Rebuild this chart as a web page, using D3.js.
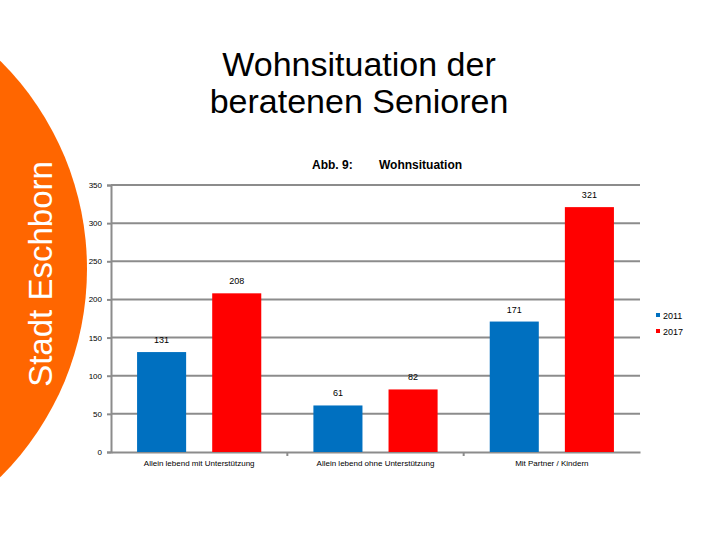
<!DOCTYPE html>
<html>
<head>
<meta charset="utf-8">
<script src="https://cdn.jsdelivr.net/npm/d3@7"></script>
<style>
  body { margin: 0; background: #fff; }
  svg { display: block; }
</style>
</head>
<body>
<div id="chart"></div>
<script>
// chart data
var categories = ["Allein lebend mit Unterstützung", "Allein lebend ohne Unterstützung", "Mit Partner / Kindern"];
var series = ["2011", "2017"];
var values2011 = [131, 61, 171];
var values2017 = [208, 82, 321];
var yTicks = [0, 50, 100, 150, 200, 250, 300, 350];
var colors = ["#0070c0", "#ff0000"];

var width = 720, height = 540;
var margin = {top: 185, right: 80, bottom: 88, left: 111};
var font = "Liberation Sans, Arial, sans-serif";

var svg = d3.select("#chart").append("svg")
    .attr("width", width)
    .attr("height", height);

// orange side band
svg.append("circle")
    .attr("cx", -206)
    .attr("cy", 269)
    .attr("r", 293)
    .attr("fill", "#ff6600");

svg.append("text")
    .attr("transform", "translate(52,274) rotate(-90)")
    .attr("text-anchor", "middle")
    .style("font-family", font)
    .style("font-size", "33px")
    .attr("fill", "#fff")
    .text("Stadt Eschborn");

// slide title
var title = svg.append("text")
    .attr("text-anchor", "middle")
    .style("font-family", font)
    .style("font-size", "34px")
    .attr("fill", "#000");
title.append("tspan").attr("x", 359).attr("y", 76).text("Wohnsituation der");
title.append("tspan").attr("x", 359).attr("y", 113).text("beratenen Senioren");

// chart header
svg.append("text")
    .attr("x", 312).attr("y", 169)
    .style("font-family", font)
    .style("font-size", "12px")
    .style("font-weight", "bold")
    .text("Abb. 9:");
svg.append("text")
    .attr("x", 379).attr("y", 169)
    .style("font-family", font)
    .style("font-size", "12px")
    .style("font-weight", "bold")
    .text("Wohnsituation");

var innerW = width - margin.left - margin.right;
var innerH = height - margin.top - margin.bottom;

var g = svg.append("g")
    .attr("transform", "translate(" + margin.left + "," + margin.top + ")");

var x0 = d3.scaleBand()
    .domain(categories)
    .range([0, innerW])
    .padding(0);

var x1 = d3.scaleBand()
    .domain(series)
    .range([0, x0.bandwidth()])
    .padding(0.347);

var y = d3.scaleLinear()
    .domain([0, 350])
    .range([innerH, 0]);

// gridlines
g.selectAll("line.grid")
    .data(yTicks.filter(d => d > 0))
    .enter().append("line")
    .attr("class", "grid")
    .attr("x1", 0).attr("x2", innerW)
    .attr("y1", d => y(d)).attr("y2", d => y(d))
    .attr("stroke", "#8c8c8c")
    .attr("stroke-width", 2);

// y axis
var yAxis = g.append("g")
    .call(d3.axisLeft(y).tickValues(yTicks).tickSize(4).tickPadding(5));
yAxis.select(".domain").attr("stroke", "#8c8c8c").attr("stroke-width", 2);
yAxis.selectAll(".tick line").attr("stroke", "#8c8c8c").attr("stroke-width", 2);
yAxis.selectAll("text")
    .style("font-family", font)
    .style("font-size", "8px")
    .attr("fill", "#000");

// x axis
var xAxis = g.append("g")
    .attr("transform", "translate(0," + innerH + ")")
    .call(d3.axisBottom(x0).tickSize(0).tickPadding(8));
xAxis.select(".domain").attr("stroke", "#8c8c8c").attr("stroke-width", 2);
xAxis.selectAll("text")
    .style("font-family", font)
    .style("font-size", "8px")
    .attr("fill", "#000");
// category separators
g.selectAll("line.sep")
    .data(categories.slice(1))
    .enter().append("line")
    .attr("class", "sep")
    .attr("x1", d => x0(d)).attr("x2", d => x0(d))
    .attr("y1", innerH).attr("y2", innerH + 4)
    .attr("stroke", "#8c8c8c")
    .attr("stroke-width", 2);

var rows = categories.map((c, i) => ({
    cat: c,
    vals: [{s: series[0], v: values2011[i], c: colors[0]},
           {s: series[1], v: values2017[i], c: colors[1]}]
}));

var groups = g.selectAll("g.cat")
    .data(rows)
    .enter().append("g")
    .attr("class", "cat")
    .attr("transform", d => "translate(" + x0(d.cat) + ",0)");

groups.selectAll("rect")
    .data(d => d.vals)
    .enter().append("rect")
    .attr("x", d => x1(d.s))
    .attr("y", d => y(d.v))
    .attr("width", x1.bandwidth())
    .attr("height", d => innerH - y(d.v))
    .attr("fill", d => d.c);

groups.selectAll("text.lbl")
    .data(d => d.vals)
    .enter().append("text")
    .attr("class", "lbl")
    .attr("x", d => x1(d.s) + x1.bandwidth() / 2)
    .attr("y", d => y(d.v) - 9)
    .attr("text-anchor", "middle")
    .style("font-family", font)
    .style("font-size", "9px")
    .text(d => d.v);

// legend
var legend = svg.append("g")
    .attr("transform", "translate(656,313)");
legend.selectAll("rect")
    .data(series)
    .enter().append("rect")
    .attr("x", 0)
    .attr("y", (d, i) => i * 16)
    .attr("width", 4).attr("height", 4)
    .attr("fill", (d, i) => colors[i]);
legend.selectAll("text")
    .data(series)
    .enter().append("text")
    .attr("x", 7)
    .attr("y", (d, i) => i * 16 + 6)
    .style("font-family", font)
    .style("font-size", "9px")
    .text(d => d);
</script>
</body>
</html>
